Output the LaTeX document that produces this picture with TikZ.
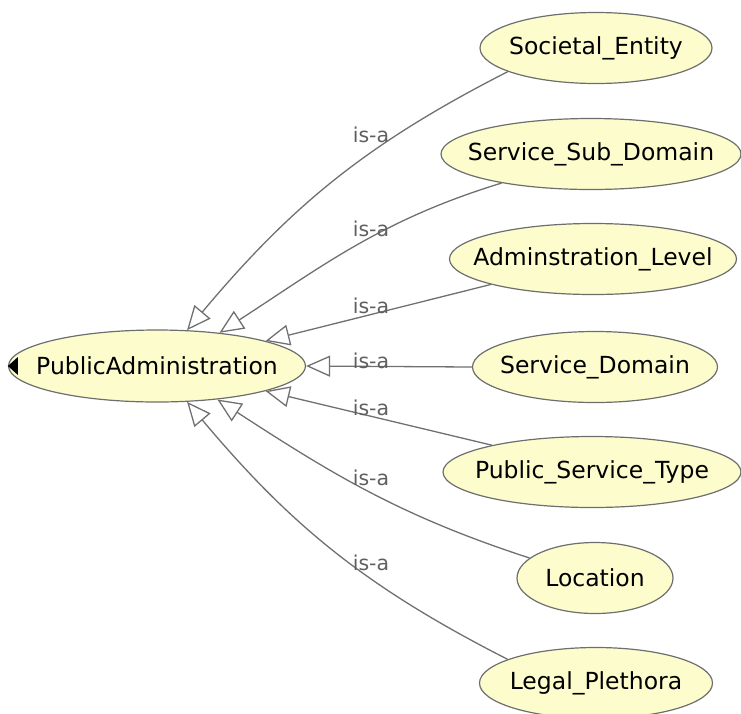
\documentclass[tikz,border=0pt]{standalone}
\usepackage{fontspec}
\newfontfamily\owlfont{DejaVu Sans}
\usepackage{xcolor}
\usepackage{tikz}
\usetikzlibrary{shapes,arrows,positioning,calc,arrows.meta}

\definecolor{clsfill}{RGB}{252,252,204}
\definecolor{clsline}{RGB}{110,110,110}
\definecolor{edgegray}{RGB}{112,112,112}
\definecolor{isagray}{RGB}{95,95,95}

% class name, boxed to zero width so the ellipse keeps the given size
\newcommand{\clname}[1]{\makebox[0pt][c]{#1}}

\begin{document}
\begin{tikzpicture}[x=1pt,y=1pt,
        cls/.style={ellipse, draw=clsline, line width=1.2pt, fill=clsfill, inner sep=0pt,
            minimum height=71, font=\owlfont\fontsize{23.5}{28}\selectfont},
        isa/.style={-{Triangle[open, length=24pt, width=21pt]}, draw=edgegray, line width=1.3pt},
        isalabel/.style={text=isagray, inner sep=0pt, font=\owlfont\fontsize{20.5}{24}\selectfont}]
        \useasboundingbox (0,0) rectangle (741,-713);

        % superclass
        \node[cls, minimum width=297, minimum height=72] (pubadmin) at (157,-366) {\clname{PublicAdministration}};
        \fill[black] (pubadmin.west) -- ++(10,9) -- ++(0,-18) -- cycle;

        % subclasses
        \node[cls, minimum width=232] (societal) at (596,-48) {\clname{Societal\_Entity}};
        \node[cls, minimum width=300] (subdomain) at (591,-154) {\clname{Service\_Sub\_Domain}};
        \node[cls, minimum width=287] (adminlevel) at (593,-259) {\clname{Adminstration\_Level}};
        \node[cls, minimum width=245] (domain) at (595,-367) {\clname{Service\_Domain}};
        \node[cls, minimum width=298] (servtype) at (592,-472) {\clname{Public\_Service\_Type}};
        \node[cls, minimum width=156] (location) at (595,-578) {\clname{Location}};
        \node[cls, minimum width=233] (legal) at (596,-683) {\clname{Legal\_Plethora}};

        % is-a edges
        \draw[isa] (societal.195) to[out=207, in=50] (pubadmin.50);
        \draw[isa] (subdomain.198) to[out=197, in=33] (pubadmin.28);
        \draw[isa] (adminlevel.194) -- (pubadmin.13);
        \draw[isa] (domain.west) -- (pubadmin.east);
        \draw[isa] (servtype.165) -- (pubadmin.-13);
        \draw[isa] (location.163) to[out=162, in=-33] (pubadmin.-29);
        \draw[isa] (legal.165) to[out=153, in=-50] (pubadmin.-50);

        % labels
        \node[isalabel] (isa1) at (371,-135) {is-a};
        \node[isalabel] (isa2) at (371,-229) {is-a};
        \node[isalabel] (isa3) at (371,-306) {is-a};
        \node[isalabel] (isa4) at (371,-361) {is-a};
        \node[isalabel] (isa5) at (371,-408) {is-a};
        \node[isalabel] (isa6) at (371,-478) {is-a};
        \node[isalabel] (isa7) at (371,-563) {is-a};
    \end{tikzpicture}
\end{document}
